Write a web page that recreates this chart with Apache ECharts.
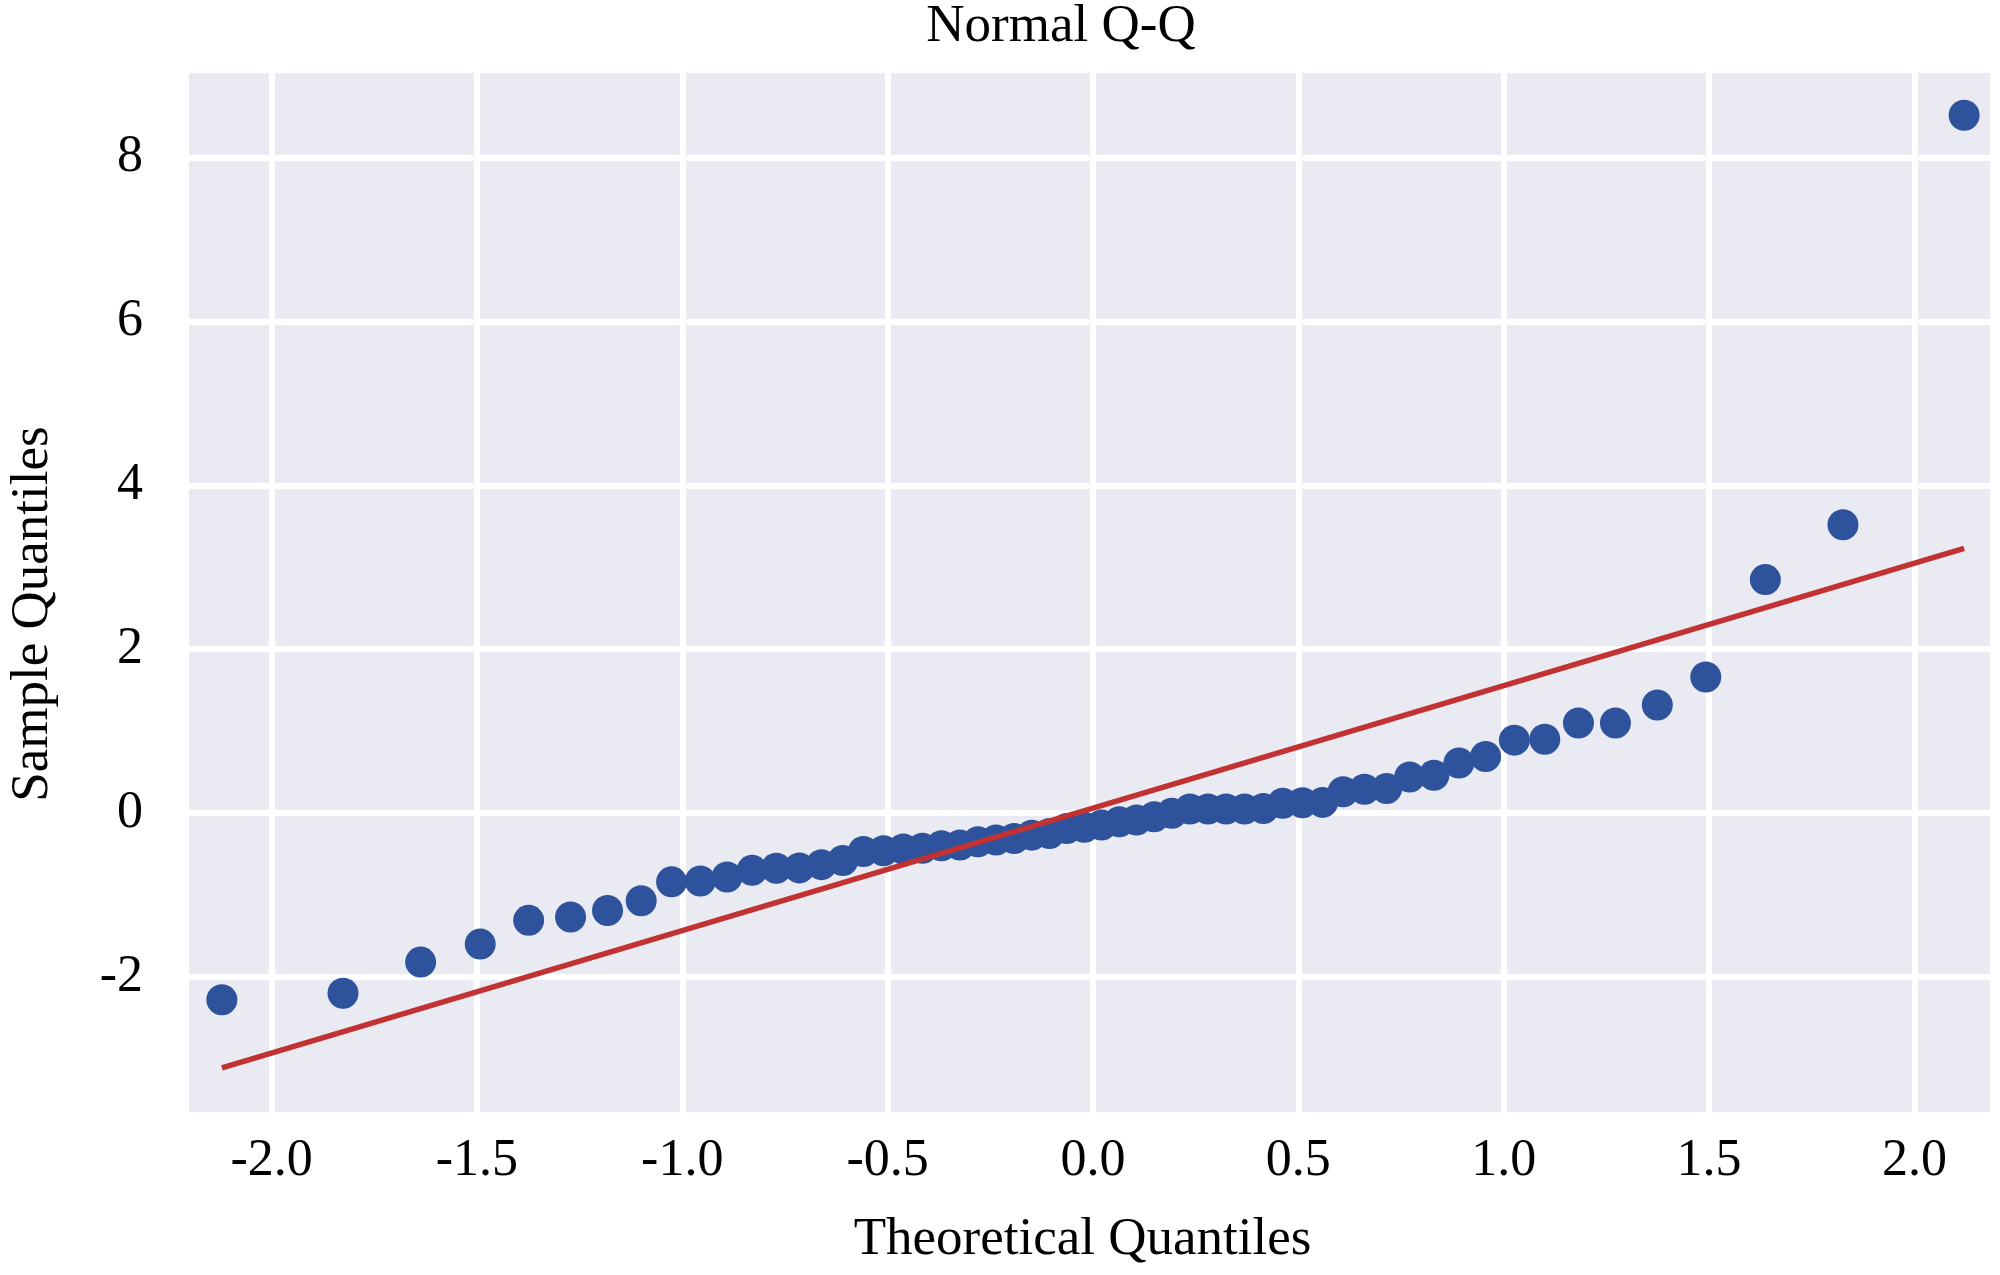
<!DOCTYPE html>
<html>
<head>
<meta charset="utf-8">
<script src="https://cdn.jsdelivr.net/npm/echarts@6/dist/echarts.min.js"></script>
<style>
html,body{margin:0;padding:0;background:#fff;}
#chart{width:2000px;height:1275px;}
</style>
</head>
<body>
<div id="chart"></div>
<script>
// Theoretical quantiles (x)
const theoretical = [
  -2.121, -1.826, -1.637, -1.492, -1.374, -1.272, -1.182, -1.100, -1.026, -0.956,
  -0.891, -0.830, -0.771, -0.715, -0.661, -0.609, -0.559, -0.510, -0.462, -0.415,
  -0.369, -0.324, -0.280, -0.236, -0.192, -0.149, -0.106, -0.064, -0.021,
   0.021,  0.064,  0.106,  0.149,  0.192,  0.236,  0.280,  0.324,  0.369,  0.415,
   0.462,  0.510,  0.559,  0.609,  0.661,  0.715,  0.771,  0.830,  0.891,  0.956,
   1.026,  1.100,  1.182,  1.272,  1.374,  1.492,  1.637,  1.826,  2.121
];
// Sample quantiles (y)
const sample = [
  -2.28, -2.20, -1.82, -1.60, -1.31, -1.27, -1.19, -1.07, -0.84, -0.83,
  -0.78, -0.70, -0.675, -0.67, -0.63, -0.58, -0.47, -0.46, -0.44, -0.43,
  -0.40, -0.39, -0.35, -0.33, -0.31, -0.27, -0.25, -0.19, -0.175,
  -0.146, -0.106, -0.085, -0.045, -0.004, 0.05, 0.05, 0.05, 0.05, 0.055,
   0.12, 0.125, 0.13, 0.26, 0.29, 0.30, 0.44, 0.46, 0.61, 0.69,
   0.89, 0.90, 1.10, 1.10, 1.32, 1.66, 2.85, 3.52, 8.52
];
// Reference line: x ends and y ends
const lineX = [-2.121, 2.121];
const lineY = [-3.11, 3.23];
// Tick labels
const xTicks = [-2.0, -1.5, -1.0, -0.5, 0.0, 0.5, 1.0, 1.5, 2.0];
const yTicks = [-2, 0, 2, 4, 6, 8];

const FONT = '"Liberation Serif", "DejaVu Serif", serif';
const chart = echarts.init(document.getElementById('chart'), null, {renderer: 'canvas'});

const points = theoretical.map((x, i) => [x, sample[i]]);
const linePts = lineX.map((x, i) => [x, lineY[i]]);

chart.setOption({
  animation: false,
  backgroundColor: '#ffffff',
  graphic: [{
    type: 'text',
    x: 1061,
    y: 27,
    style: {
      text: 'Normal Q-Q',
      font: '53px ' + FONT,
      fill: '#000',
      align: 'center',
      verticalAlign: 'middle'
    }
  }, {
    type: 'text',
    x: 33,
    y: 614,
    rotation: Math.PI / 2,
    style: {
      text: 'Sample Quantiles',
      font: '53px ' + FONT,
      fill: '#000',
      align: 'center',
      verticalAlign: 'middle'
    }
  }],
  grid: {
    left: 189, right: 10, top: 73, bottom: 163,
    show: true, backgroundColor: '#EAEAF2', borderWidth: 0
  },
  xAxis: {
    type: 'value',
    min: -2.201, max: 2.184,
    name: 'Theoretical Quantiles',
    nameLocation: 'middle',
    nameGap: 102,
    nameTextStyle: {fontFamily: FONT, fontSize: 53, color: '#000', padding: [0, 14, 0, 0]},
    axisLine: {show: false},
    axisTick: {show: false, customValues: xTicks},
    axisLabel: {
      customValues: xTicks,
      fontFamily: FONT, fontSize: 52, color: '#000', margin: 23,
      formatter: v => v.toFixed(1)
    },
    splitLine: {show: true, lineStyle: {color: '#ffffff', width: 6}}
  },
  yAxis: {
    type: 'value',
    min: -3.65, max: 9.035,
    axisLine: {show: false},
    axisTick: {show: false, customValues: yTicks},
    axisLabel: {
      customValues: yTicks,
      fontFamily: FONT, fontSize: 52, color: '#000', margin: 46,
      formatter: v => String(v)
    },
    splitLine: {show: true, lineStyle: {color: '#ffffff', width: 6}}
  },
  series: [
    {
      type: 'scatter',
      data: points,
      symbol: 'circle',
      symbolSize: 31,
      itemStyle: {color: '#2f529c', opacity: 1},
      z: 2
    },
    {
      type: 'line',
      data: linePts,
      symbol: 'none',
      lineStyle: {color: '#c23232', width: 5.5},
      z: 3
    }
  ]
});
</script>
</body>
</html>
